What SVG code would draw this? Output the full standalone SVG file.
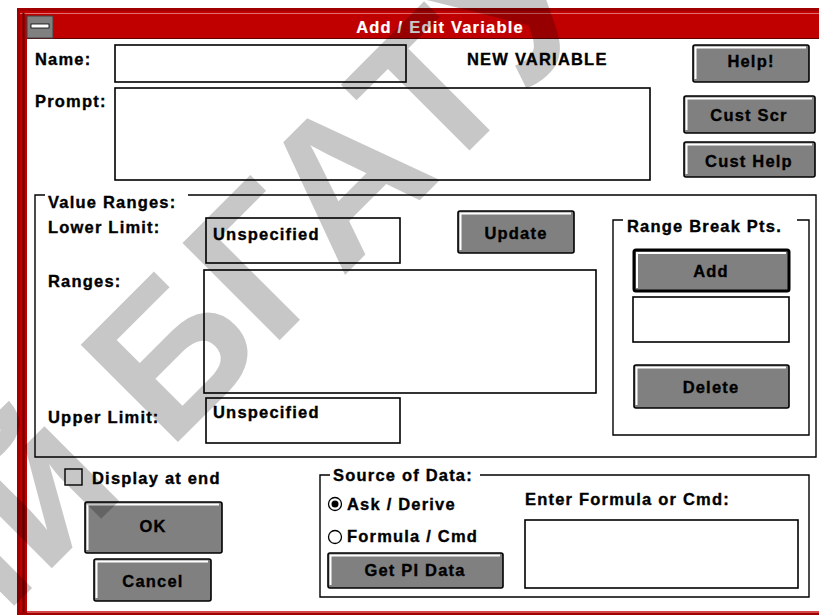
<svg xmlns="http://www.w3.org/2000/svg" width="819" height="615" viewBox="0 0 819 615">
<style>
.t{font-family:"Liberation Sans",Arial,sans-serif;font-weight:bold;font-size:16.5px;letter-spacing:1.2px;fill:#000;stroke:#000;stroke-width:0.35}
.c{text-anchor:middle}
.title{fill:#fff;stroke:#fff;stroke-width:0.2;letter-spacing:1.2px}
.box{fill:#fff;stroke:#000;stroke-width:1.6}
.btn{fill:#808080;stroke:#000;stroke-width:1.6}
.dbtn{fill:#808080;stroke:#000;stroke-width:3}
.hl{fill:none;stroke:#fff;stroke-width:2}
.grp{fill:none;stroke:#000;stroke-width:1.4}
.wm{font-family:"Liberation Sans",Arial,sans-serif;font-weight:bold;font-size:200px;fill:#000;fill-opacity:0.22}
</style>
<g id="window">
<rect x="17" y="8" width="802" height="607" fill="#a00000"/>
<rect x="20" y="11" width="799" height="601" fill="#c00000"/>
<line x1="20" y1="13.5" x2="819" y2="13.5" stroke="#e07070" stroke-width="1"/>
<line x1="23.5" y1="13" x2="23.5" y2="612" stroke="#600000" stroke-width="2"/>
<rect x="27" y="39" width="792" height="572" fill="#fff"/>
<line x1="27" y1="612" x2="819" y2="612" stroke="#e06060" stroke-width="1.5"/>
<rect x="27" y="16" width="792" height="23" fill="#c00000"/>
<line x1="27" y1="38.5" x2="819" y2="38.5" stroke="#600000" stroke-width="1"/>
<rect x="27" y="16" width="26" height="22" fill="#808080" stroke="#404040" stroke-width="1"/>
<rect x="31" y="24" width="18" height="4" fill="#fff" stroke="#000" stroke-width="0.8"/>
<text class="t title c" x="440" y="33">Add / Edit Variable</text>
</g>
<g id="name">
<text class="t" x="35" y="65">Name:</text>
<rect class="box" x="115" y="45" width="291" height="37"/>
<text class="t" x="467" y="65">NEW VARIABLE</text>
</g>
<g id="prompt">
<text class="t" x="35" y="107">Prompt:</text>
<rect class="box" x="115" y="88" width="535" height="92"/>
</g>
<g id="help">
<rect class="btn" x="693" y="45" width="116" height="37" rx="2"/>
<polyline class="hl" points="695.5,79 695.5,47.5 806,47.5"/>
<text class="t c" x="751" y="67">Help!</text>
</g>
<g id="custscr">
<rect class="btn" x="684" y="96" width="131" height="37" rx="2"/>
<polyline class="hl" points="686.5,130 686.5,98.5 812,98.5"/>
<text class="t c" x="749" y="121">Cust Scr</text>
</g>
<g id="custhelp">
<rect class="btn" x="684" y="142" width="131" height="35" rx="2"/>
<polyline class="hl" points="686.5,174 686.5,144.5 812,144.5"/>
<text class="t c" x="749" y="167">Cust Help</text>
</g>
<g id="valueranges">
<path class="grp" d="M45,195 H35 V457 H816 V195 H188"/>
<text class="t" x="48" y="208">Value Ranges:</text>
<text class="t" x="48" y="233">Lower Limit:</text>
<rect class="box" x="206" y="218" width="194" height="45"/>
<text class="t" x="213" y="240">Unspecified</text>
<text class="t" x="48" y="287">Ranges:</text>
<rect class="box" x="204" y="270" width="392" height="123"/>
<text class="t" x="48" y="423">Upper Limit:</text>
<rect class="box" x="206" y="398" width="194" height="45"/>
<text class="t" x="213" y="418">Unspecified</text>
</g>
<g id="update">
<rect class="btn" x="458" y="211" width="116" height="42" rx="2"/>
<polyline class="hl" points="460.5,250 460.5,213.5 571,213.5"/>
<text class="t c" x="516" y="239">Update</text>
</g>
<g id="rangebreak">
<path class="grp" d="M623,220 H613 V435 H809 V220 H797"/>
<text class="t" x="627" y="232">Range Break Pts.</text>
<rect class="dbtn" x="634" y="250" width="155" height="41" rx="2"/>
<polyline class="hl" points="637,288 637,253 786,253"/>
<text class="t c" x="711" y="277">Add</text>
<rect class="box" x="633" y="297" width="156" height="45"/>
<rect class="btn" x="634" y="365" width="155" height="43" rx="2"/>
<polyline class="hl" points="636.5,405 636.5,367.5 786,367.5"/>
<text class="t c" x="711" y="393">Delete</text>
</g>
<g id="display">
<rect x="65" y="469" width="17" height="16" fill="#fff" stroke="#000" stroke-width="1.4"/>
<text class="t" x="92" y="484">Display at end</text>
</g>
<g id="ok">
<rect class="btn" x="85" y="502" width="137" height="51" rx="2"/>
<polyline class="hl" points="87.5,550 87.5,504.5 219,504.5"/>
<text class="t c" x="153" y="532">OK</text>
</g>
<g id="cancel">
<rect class="btn" x="94" y="559" width="117" height="42" rx="2"/>
<polyline class="hl" points="96.5,598 96.5,561.5 208,561.5"/>
<text class="t c" x="153" y="587">Cancel</text>
</g>
<g id="source">
<path class="grp" d="M330,475 H320 V597 H809 V475 H480"/>
<text class="t" x="333" y="481">Source of Data:</text>
<circle cx="335" cy="504" r="6.5" fill="#fff" stroke="#000" stroke-width="1.3"/>
<circle cx="335" cy="504" r="3.5" fill="#000"/>
<text class="t" x="347" y="510">Ask / Derive</text>
<circle cx="335" cy="537" r="6.5" fill="#fff" stroke="#000" stroke-width="1.3"/>
<text class="t" x="347" y="542">Formula / Cmd</text>
<rect class="btn" x="328" y="553" width="175" height="35" rx="2"/>
<polyline class="hl" points="330.5,585 330.5,555.5 500,555.5"/>
<text class="t c" x="415" y="576">Get PI Data</text>
<text class="t" x="525" y="505">Enter Formula or Cmd:</text>
<rect class="box" x="525" y="520" width="273" height="68"/>
</g>
<g id="watermark" transform="rotate(-45)">
<text class="wm" x="-200" y="438.4">БГАТУ</text>
<text class="wm" x="-256" y="438.4" text-anchor="end">Репозиторий</text>
</g>
</svg>
